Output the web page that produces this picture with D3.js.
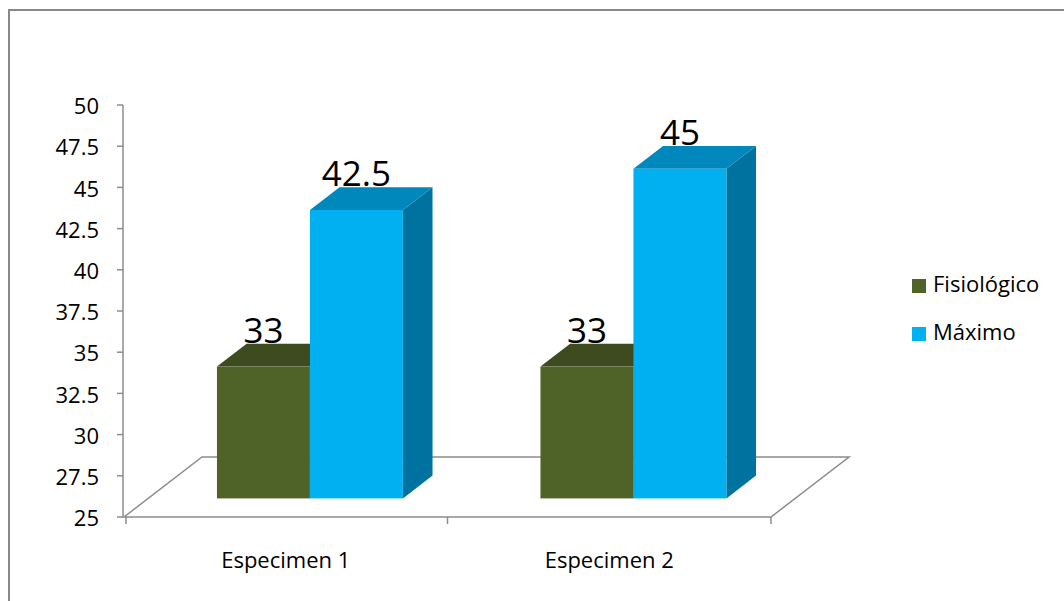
<!DOCTYPE html>
<html lang="es">
<head>
    <meta charset="UTF-8">
    <title>Especimen</title>
    <script src="https://d3js.org/d3.v7.min.js"></script>
    <style>
        body { margin: 0; background: #fff; }
        text { font-family: "Open Sans", "DejaVu Sans", sans-serif; fill: #000; }
    </style>
</head>
<body>
<svg width="1064" height="601"></svg>
<script>
    // datos
    const categories = ["Especimen 1", "Especimen 2"];
    const series = ["Fisiológico", "Máximo"];
    const fisiologico = [33, 33];
    const maximo = [42.5, 45];
    const yTicks = [25, 27.5, 30, 32.5, 35, 37.5, 40, 42.5, 45, 47.5, 50];

    const colors = {
        "Fisiológico": { front: "#4f6228", top: "#3d4b1e", side: "#3a4a1c" },
        "Máximo":      { front: "#00b0f0", top: "#0088bd", side: "#0072a0" }
    };

    const svg = d3.select("svg");
    const width = 1064, height = 601;

    // marco del grafico
    svg.append("rect")
        .attr("x", 9).attr("y", 10)
        .attr("width", width + 20).attr("height", height + 20)
        .attr("fill", "#fff")
        .attr("stroke", "#888").attr("stroke-width", 2);

    const y = d3.scaleLinear().domain([25, 50]).range([517, 105]);
    const x0 = d3.scaleBand().domain(categories).range([124, 771]);
    const x1 = d3.scaleBand().domain(series).range([0, x0.bandwidth()])
        .paddingInner(0).paddingOuter(0.74);

    // vector de profundidad (suelo 3D)
    const depth = { dx: 78, dy: -60 };
    const barFront = 0.31, barBack = 0.69;

    function proj(px, v, d) {
        return [px + d * depth.dx, y(v) + d * depth.dy];
    }

    // suelo
    const floorPts = [proj(124, 25, 0), proj(124, 25, 1), proj(771, 25, 1), proj(771, 25, 0)];
    svg.append("path")
        .attr("d", d3.line()(floorPts) + "Z")
        .attr("fill", "none")
        .attr("stroke", "#8c8c8c").attr("stroke-width", 1.5);

    // barras
    const rows = categories.map((c, i) => ({ cat: c, values: [
        { s: "Fisiológico", v: fisiologico[i] },
        { s: "Máximo", v: maximo[i] }
    ]}));

    const g = svg.append("g");
    rows.forEach(r => {
        r.values.forEach(d => {
            const xl = x0(r.cat) + x1(d.s);
            const xr = xl + x1.bandwidth();
            const c = colors[d.s];
            // lado derecho
            g.append("path")
                .attr("d", d3.line()([proj(xr, 25, barFront), proj(xr, 25, barBack),
                    proj(xr, d.v, barBack), proj(xr, d.v, barFront)]) + "Z")
                .attr("fill", c.side);
            // cara superior
            g.append("path")
                .attr("d", d3.line()([proj(xl, d.v, barFront), proj(xl, d.v, barBack),
                    proj(xr, d.v, barBack), proj(xr, d.v, barFront)]) + "Z")
                .attr("fill", c.top);
            // cara frontal
            const [fx, fy] = proj(xl, d.v, barFront);
            const [, fb] = proj(xl, 25, barFront);
            g.append("rect")
                .attr("x", fx).attr("y", fy)
                .attr("width", xr - xl).attr("height", fb - fy)
                .attr("fill", c.front);
        });
    });

    // etiquetas de valores
    rows.forEach(r => {
        r.values.forEach(d => {
            const xl = x0(r.cat) + x1(d.s);
            const [fx, fy] = proj(xl + x1.bandwidth() / 2, d.v, barFront);
            svg.append("text")
                .attr("x", fx).attr("y", fy - 24)
                .attr("text-anchor", "middle")
                .style("font-size", "35px")
                .text(d.v);
        });
    });

    // eje y
    const yAxis = svg.append("g");
    yAxis.append("line")
        .attr("x1", 123).attr("x2", 123)
        .attr("y1", y(50)).attr("y2", y(25))
        .attr("stroke", "#8c8c8c").attr("stroke-width", 1.5);
    yTicks.forEach(t => {
        yAxis.append("line")
            .attr("x1", 117).attr("x2", 123)
            .attr("y1", y(t)).attr("y2", y(t))
            .attr("stroke", "#8c8c8c").attr("stroke-width", 1.5);
        yAxis.append("text")
            .attr("x", 99).attr("y", y(t) + 1.5)
            .attr("dy", "0.35em")
            .attr("text-anchor", "end")
            .style("font-size", "22px")
            .text(t);
    });

    // eje x (ticks y etiquetas)
    const xTickPos = [x0.range()[0] + 2].concat(categories.map(c => x0(c) + x0.bandwidth()));
    xTickPos.forEach(p => {
        svg.append("line")
            .attr("x1", p).attr("x2", p)
            .attr("y1", y(25)).attr("y2", y(25) + 7)
            .attr("stroke", "#8c8c8c").attr("stroke-width", 1.5);
    });
    categories.forEach(c => {
        svg.append("text")
            .attr("x", x0(c) + x0.bandwidth() / 2)
            .attr("y", 568)
            .attr("text-anchor", "middle")
            .style("font-size", "22px")
            .text(c);
    });

    // leyenda
    const legend = svg.append("g").attr("transform", "translate(912,279)");
    series.forEach((s, i) => {
        legend.append("rect")
            .attr("x", 0).attr("y", i * 48)
            .attr("width", 14).attr("height", 14)
            .attr("fill", colors[s].front);
        legend.append("text")
            .attr("x", 21).attr("y", i * 48 + 13)
            .style("font-size", "22px")
            .text(s);
    });
</script>
</body>
</html>
